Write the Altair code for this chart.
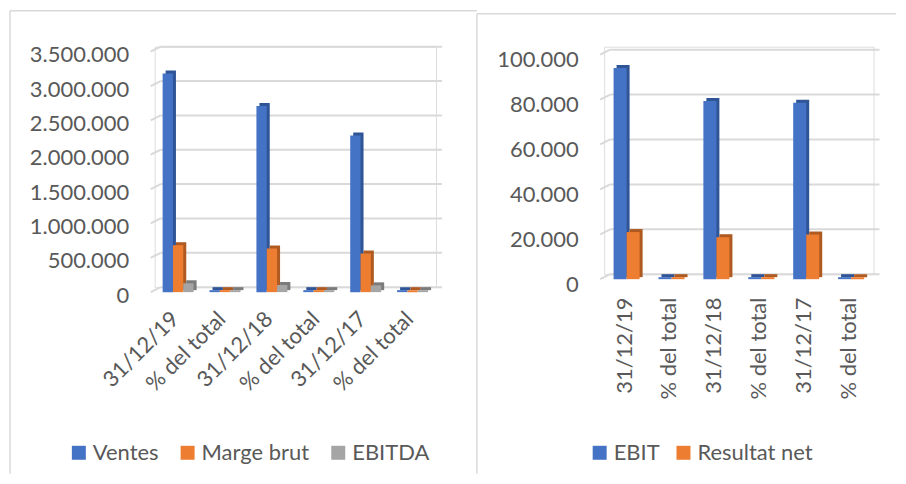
import altair as alt
import pandas as pd

# ---------------- data ----------------
categories = ["31/12/19", "% del total", "31/12/18", "% del total", "31/12/17", "% del total"]

left_series = ["Ventes", "Marge brut", "EBITDA"]
ventes = [3155000, 0, 2680000, 0, 2250000, 0]
marge_brut = [654000, 0, 606000, 0, 533000, 0]
ebitda = [100000, 0, 75000, 0, 70000, 0]
left_ticks = [0, 500000, 1000000, 1500000, 2000000, 2500000, 3000000, 3500000]

right_series = ["EBIT", "Resultat net"]
ebit = [93200, 0, 78500, 0, 77700, 0]
resultat_net = [20100, 0, 17800, 0, 19000, 0]
right_ticks = [0, 20000, 40000, 60000, 80000, 100000]

# ---------------- style ----------------
left_colors = ["#4472C4", "#ED7D31", "#A5A5A5"]
left_dark = ["#2F5597", "#AE5A21", "#7B7B7B"]
right_colors = ["#4472C4", "#ED7D31"]
right_dark = ["#2F5597", "#AE5A21"]

FONT = "Lato"
TEXT = "#595959"
GRID = "#D9D9D9"
FS = 22


def build_df(series_names, series_values):
    rows = []
    for s, vals in zip(series_names, series_values):
        for i, (c, v) in enumerate(zip(categories, vals)):
            rows.append({"key": f"{i}|{c}", "series": s, "side": s + " side", "value": v})
    return pd.DataFrame(rows)


def panel(df, series, colors, darks, ticks, ymax, width, height, pad_in, pad_out,
          label_angle, x_label_pad, x_label_off, y_label_off, legend_x, legend_y,
          col_pad, frame):
    keys = [f"{i}|{c}" for i, c in enumerate(categories)]
    sides = [s + " side" for s in series]
    color_scale = alt.Scale(domain=series + sides, range=colors + darks)
    yscale = alt.Scale(domain=[0, ymax], nice=False, zero=True)
    y_axis = alt.Axis(values=ticks, grid=False, domain=False, ticks=False, tickSize=0,
                      labelPadding=26, labelOffset=y_label_off, labelFont=FONT,
                      labelFontSize=FS, labelColor=TEXT, title=None,
                      labelOverlap=False,
                      labelExpr="replace(format(datum.value, ','), regexp(',', 'g'), '.')")

    tick_df = pd.DataFrame({"tick": ticks})
    one = pd.DataFrame({"f": [0]})
    fx0, fx1, fy0, fy1 = frame

    front = alt.Chart(df).mark_bar(yOffset=3, y2Offset=5).encode(
        x=alt.X("key:N", sort=keys, title=None,
                scale=alt.Scale(domain=keys, paddingInner=pad_in, paddingOuter=pad_out),
                axis=alt.Axis(labelExpr="split(datum.value, '|')[1]", labelAngle=label_angle,
                              domain=False, ticks=False, tickSize=0, grid=False,
                              labelPadding=x_label_pad, labelOffset=x_label_off,
                              labelFont=FONT, labelFontSize=FS,
                              labelColor=TEXT, labelOverlap=False)),
        xOffset=alt.XOffset("series:N", sort=series,
                            scale=alt.Scale(paddingInner=0, paddingOuter=0)),
        y=alt.Y("value:Q", scale=yscale, title=None, axis=y_axis),
        y2=alt.datum(0),
        color=alt.Color("series:N", scale=color_scale,
                        legend=alt.Legend(values=series, orient="none", legendX=legend_x,
                                          legendY=legend_y, direction="horizontal", title=None,
                                          symbolType="square", symbolSize=196,
                                          symbolStrokeWidth=0, labelFont=FONT,
                                          labelFontSize=FS, labelColor=TEXT, labelOffset=3,
                                          columnPadding=col_pad, padding=0)),
    )

    side = alt.Chart(df).mark_bar(yOffset=0, y2Offset=3).encode(
        x=alt.X("key:N", sort=keys, axis=None,
                scale=alt.Scale(domain=keys, paddingInner=pad_in, paddingOuter=pad_out,
                                range=[3, width + 3])),
        xOffset=alt.XOffset("series:N", sort=series,
                            scale=alt.Scale(paddingInner=0, paddingOuter=0)),
        y=alt.Y("value:Q", scale=yscale, title=None, axis=y_axis),
        y2=alt.datum(0),
        color=alt.Color("side:N", scale=color_scale),
    )

    frame_v = alt.Chart(one).mark_rule(color=GRID, strokeWidth=1.5).encode(
        x=alt.value(fx0), y=alt.value(fy0), y2=alt.value(fy1))
    frame_h = alt.Chart(one).mark_rule(color=GRID, strokeWidth=1.5).encode(
        x=alt.value(fx0), x2=alt.value(fx1), y=alt.value(fy0))

    grid = alt.Chart(tick_df).mark_rule(color=GRID, strokeWidth=2).encode(
        x=alt.value(6), x2=alt.value(width + 6),
        y=alt.Y("tick:Q", scale=yscale, title=None, axis=y_axis),
    )
    slant = alt.Chart(tick_df).mark_rule(color=GRID, strokeWidth=2, yOffset=5).encode(
        x=alt.value(-4), x2=alt.value(6),
        y=alt.Y("tick:Q", scale=yscale, title=None, axis=y_axis),
        y2=alt.Y2("tick:Q"),
    )

    return alt.layer(frame_v, frame_h, grid, slant, side, front).resolve_scale(
        x="independent", xOffset="independent"
    ).properties(width=width, height=height)


left_df = build_df(left_series, [ventes, marge_brut, ebitda])
right_df = build_df(right_series, [ebit, resultat_net])

left = panel(left_df, left_series, left_colors, left_dark, left_ticks, 3500000,
             282, 241, 0.34, 0.17, -45, 21, -10, 8, -87, 396, 18,
             (-145, 323, -36, 428))
right = panel(right_df, right_series, right_colors, right_dark, right_ticks, 101333,
              270, 228, 0.42, 0.21, -90, 23, -2, 10, -15.5, 396, 12,
              (-127.5, 292.5, -33, 428))

chart = alt.hconcat(
    left, right, spacing=168.5, bounds="flush",
    padding={"left": 0, "top": 0.25, "right": 0, "bottom": 0},
).resolve_scale(color="independent").configure_view(stroke=None).configure_axisY(
    labelOverlap=False
).configure(background="white")

chart.save("out.html", embed_options={"renderer": "svg", "actions": False})
